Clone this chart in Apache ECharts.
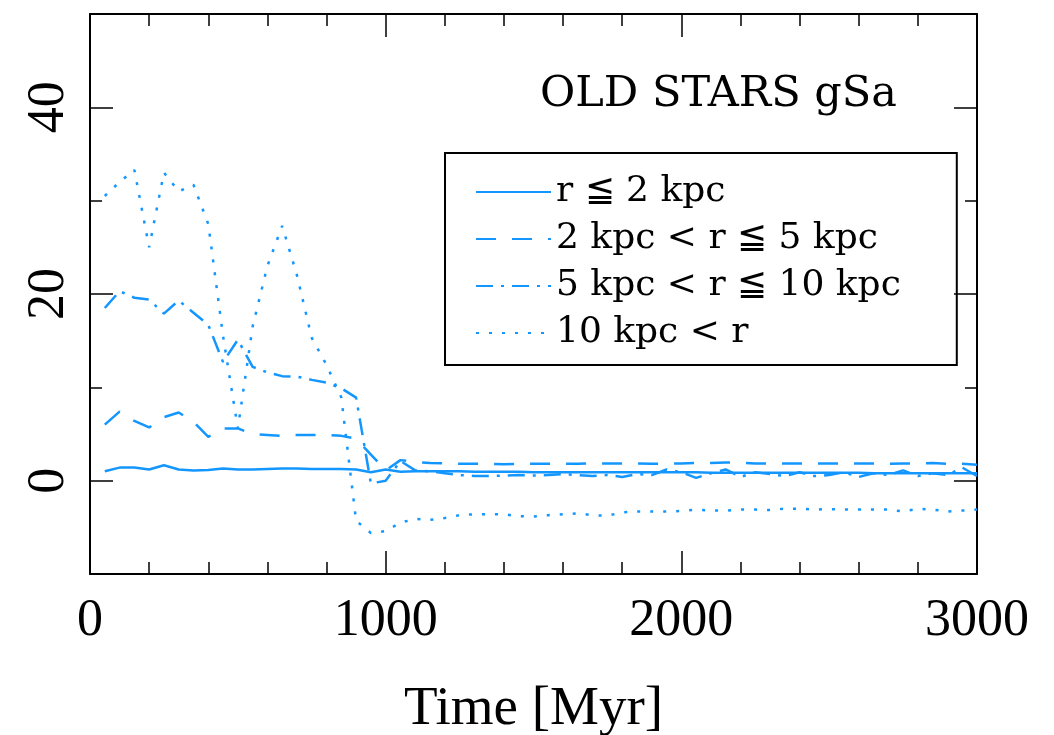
<!DOCTYPE html>
<html>
<head>
<meta charset="utf-8">
<script src="https://cdn.jsdelivr.net/npm/echarts@6/dist/echarts.min.js"></script>
<style>
html,body{margin:0;padding:0;background:#fff;}
#chart{width:1054px;height:735px;}
</style>
</head>
<body>
<div id="chart"></div>
<script>
// ---- data ----
const times = [50,100,150,200,250,300,350,400,450,500,550,600,650,700,750,800,850,900,950,1000,
  1050,1100,1150,1200,1250,1300,1350,1400,1450,1500,1550,1600,1650,1700,1750,1800,1850,1900,1950,2000,
  2050,2100,2150,2200,2250,2300,2350,2400,2450,2500,2550,2600,2650,2700,2750,2800,2850,2900,2950,3000];

const inner = [1.0,1.4,1.4,1.2,1.65,1.2,1.1,1.15,1.3,1.2,1.2,1.25,1.3,1.3,1.25,1.25,1.25,1.2,0.9,1.2,
  0.95,1.0,1.0,1.0,1.0,0.95,0.95,0.95,0.95,0.9,0.9,0.9,0.9,0.9,0.9,0.9,0.9,0.9,0.9,0.9,
  0.9,0.85,0.85,0.85,0.85,0.85,0.85,0.85,0.85,0.85,0.85,0.85,0.8,0.8,0.8,0.8,0.8,0.8,0.8,0.8];

const mid = [6.0,7.4,6.4,5.7,6.8,7.3,6.3,4.7,5.6,5.6,5.0,4.9,4.8,4.9,4.9,4.9,4.8,4.5,2.8,1.1,
  2.2,2.0,1.9,1.85,1.8,1.8,1.8,1.75,1.8,1.8,1.8,1.8,1.8,1.85,1.85,1.85,1.85,1.8,1.85,1.85,
  1.9,1.9,1.95,1.9,1.85,1.85,1.85,1.85,1.85,1.85,1.85,1.85,1.85,1.8,1.85,1.85,1.9,1.8,1.8,1.7];

const outer = [18.5,20.3,19.6,19.4,17.9,19.3,18.0,16.7,12.7,15.1,12.2,11.6,11.2,11.15,10.8,10.5,9.9,8.9,-0.3,0.0,
  2.1,1.1,1.0,0.8,0.6,0.5,0.5,0.55,0.6,0.55,0.6,0.7,0.6,0.5,0.6,0.4,0.7,0.6,1.2,0.9,
  0.3,0.8,1.2,0.4,0.9,0.7,0.5,0.9,0.5,0.6,0.9,0.4,0.8,0.6,1.1,0.5,0.8,0.6,1.4,0.5];

const far = [30.5,32.0,33.3,25.0,33.0,31.0,31.7,27.5,15.5,5.6,16.5,23.0,27.3,22.0,15.3,12.4,8.9,-4.3,-5.6,-5.4,
  -4.5,-4.1,-4.2,-4.0,-3.7,-3.6,-3.6,-3.6,-3.8,-3.85,-3.7,-3.6,-3.5,-3.7,-3.75,-3.4,-3.3,-3.3,-3.3,-3.25,
  -3.1,-3.2,-3.2,-3.1,-3.1,-3.15,-3.0,-3.0,-3.1,-3.05,-3.1,-3.1,-3.1,-3.1,-3.3,-3.0,-3.1,-3.3,-3.2,-3.1];

const seriesNames = ['r \u2266 2 kpc', '2 kpc < r \u2266 5 kpc', '5 kpc < r \u2266 10 kpc', '10 kpc < r'];
const xTicks = [0, 1000, 2000, 3000];
const yLabelValues = [0, 20, 40];
const titleText = 'OLD STARS gSa';
const xName = 'Time [Myr]';

// ---- chart ----
const color = '#1496ff';
const pairs = arr => times.map((t, i) => [t, arr[i]]);
const lineTypes = ['solid', [20, 16], [17, 8, 3, 8], [3, 10]];
const allVals = [inner, mid, outer, far];

const numFont = 'Liberation Serif';
const frame = {show: true, onZero: false, lineStyle: {color: '#000', width: 2}};
const tickStyle = {color: '#000', width: 1.5};

// y axis: short ticks every 20 starting at -10 (i.e. at -10,10,30,50),
// long "minor" ticks halfway between them (at 0,20,40) -> matches the reference frame.
const yAxisBase = (pos, withLabels) => ({
  type: 'value', min: -10, max: 50, interval: 20, position: pos,
  axisLine: frame, splitLine: {show: false},
  axisTick: {show: true, inside: true, length: 12, lineStyle: tickStyle},
  minorTick: {show: true, splitNumber: 2, length: 23, lineStyle: tickStyle},
  axisLabel: withLabels
    ? {show: true, rotate: 90, margin: 15, fontFamily: numFont, fontSize: 52, color: '#000',
       customValues: yLabelValues, formatter: v => String(v)}
    : {show: false}
});
const xAxisBase = (pos, withLabels) => ({
  type: 'value', min: 0, max: 3000, interval: 1000, position: pos,
  axisLine: frame, splitLine: {show: false},
  axisTick: {show: true, inside: true, length: 23, lineStyle: tickStyle},
  minorTick: {show: true, splitNumber: 5, length: 12, lineStyle: tickStyle},
  axisLabel: withLabels
    ? {show: true, margin: 21, fontFamily: numFont, fontSize: 52, color: '#000',
       customValues: xTicks, formatter: v => String(v)}
    : {show: false}
});

const xBottom = Object.assign(xAxisBase('bottom', true), {
  name: xName, nameLocation: 'middle', nameGap: 108,
  nameTextStyle: {fontFamily: numFont, fontSize: 55, color: '#000'}
});

const chart = echarts.init(document.getElementById('chart'), null, {renderer: 'canvas'});
chart.setOption({
  animation: false,
  backgroundColor: '#fff',
  title: {
    text: titleText, left: 535, top: 68,
    textStyle: {fontFamily: 'DejaVu Serif', fontWeight: 'normal', fontSize: 43, color: '#000'}
  },
  legend: {
    orient: 'vertical', left: 445, top: 153,
    padding: [21, 56, 14, 30],
    borderColor: '#000', borderWidth: 2,
    itemWidth: 75, itemHeight: 20, itemGap: 11,
    itemStyle: {opacity: 0},
    textStyle: {fontFamily: 'DejaVu Serif', fontSize: 36, lineHeight: 34, color: '#000'},
    data: seriesNames
  },
  grid: {left: 90, right: 77, top: 14, bottom: 161, containLabel: false, outerBoundsMode: 'none'},
  xAxis: [xBottom, xAxisBase('top', false)],
  yAxis: [yAxisBase('left', true), yAxisBase('right', false)],
  series: seriesNames.map((name, i) => ({
    name, type: 'line', xAxisIndex: 0, yAxisIndex: 0,
    data: pairs(allVals[i]),
    symbol: 'none', showSymbol: false,
    lineStyle: {color, width: 2.5, type: lineTypes[i]},
    itemStyle: {color},
    z: 3
  }))
});
</script>
</body>
</html>
